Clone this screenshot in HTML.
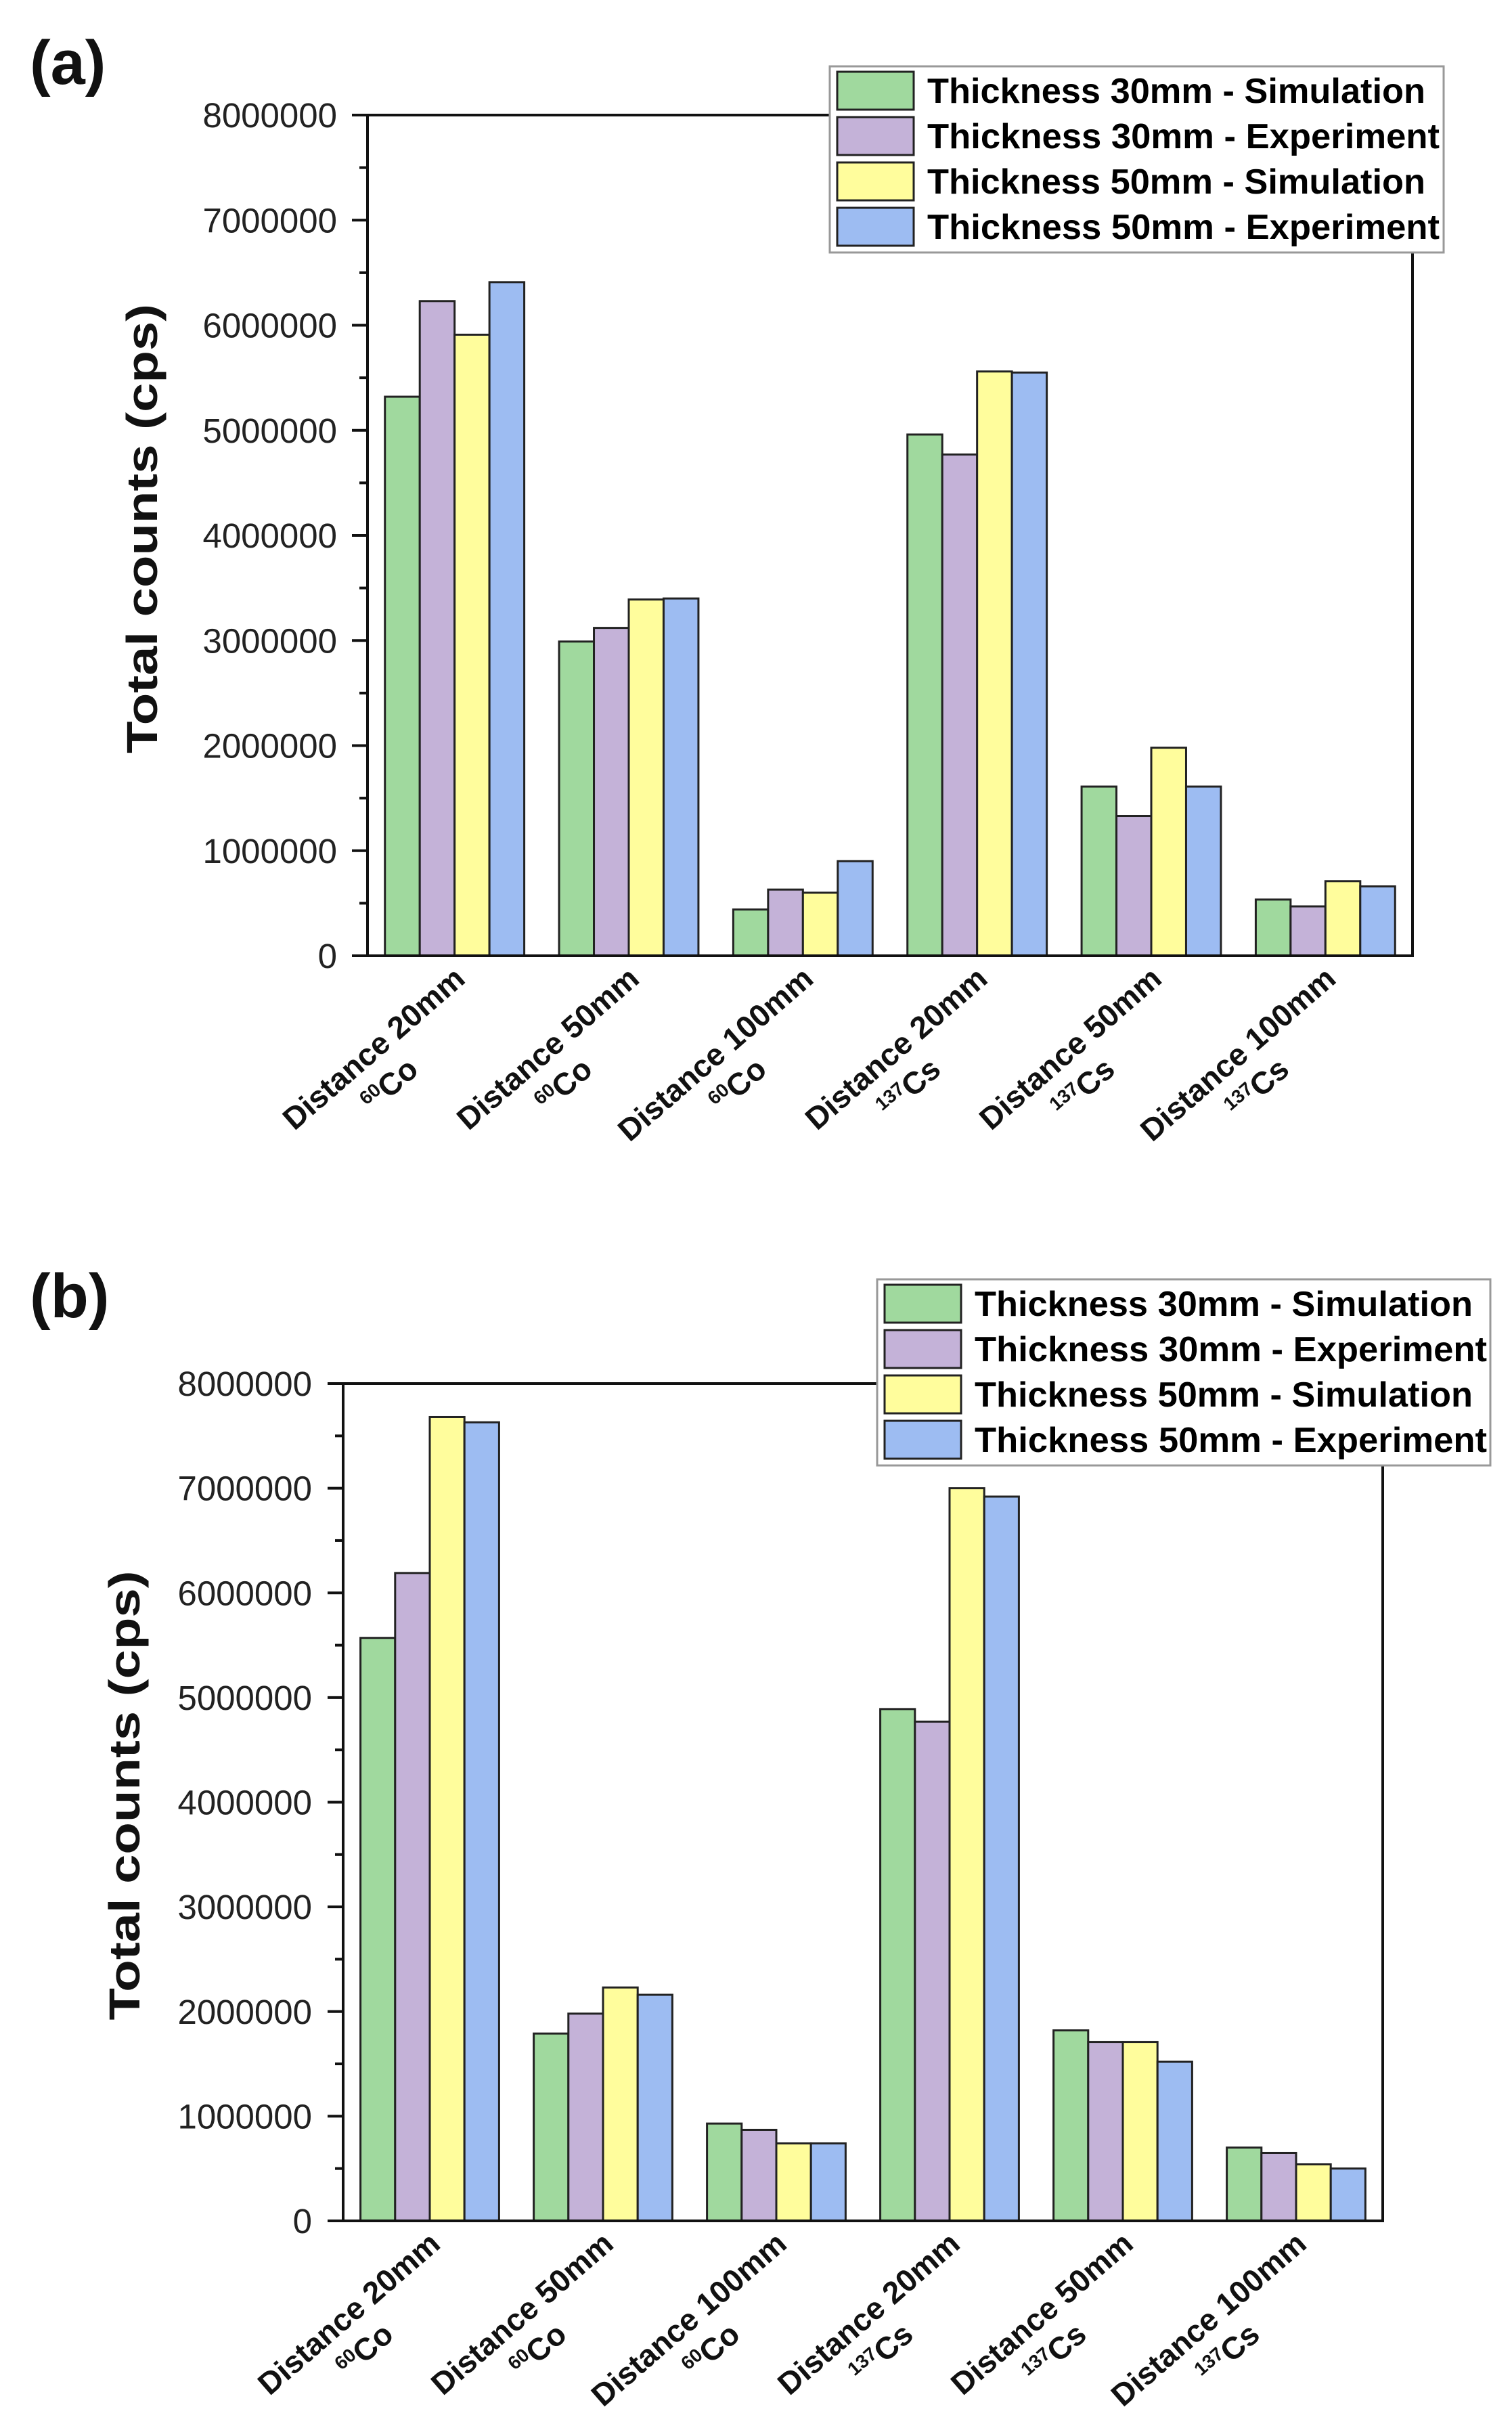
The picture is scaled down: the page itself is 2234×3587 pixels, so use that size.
<!DOCTYPE html>
<html><head><meta charset="utf-8"><style>
html,body{margin:0;padding:0;background:#fff;}
svg{display:block;}
text{font-family:"Liberation Sans",sans-serif;}
</style></head><body>
<svg id="fig" width="2234" height="3587" viewBox="0 0 2234 3587" xmlns="http://www.w3.org/2000/svg"></svg>
<script>
const categories = ["Distance 20mm|60|Co","Distance 50mm|60|Co","Distance 100mm|60|Co","Distance 20mm|137|Cs","Distance 50mm|137|Cs","Distance 100mm|137|Cs"];
const seriesNames = ["Thickness 30mm - Simulation","Thickness 30mm - Experiment","Thickness 50mm - Simulation","Thickness 50mm - Experiment"];
const yTicks = [0,1000000,2000000,3000000,4000000,5000000,6000000,7000000,8000000];
const aSim30 = [5320000,2990000,440000,4960000,1610000,535000];
const aExp30 = [6230000,3120000,630000,4770000,1330000,470000];
const aSim50 = [5910000,3390000,600000,5560000,1980000,710000];
const aExp50 = [6410000,3400000,900000,5550000,1610000,660000];
const bSim30 = [5570000,1790000,930000,4890000,1820000,700000];
const bExp30 = [6190000,1980000,870000,4770000,1710000,650000];
const bSim50 = [7680000,2230000,740000,7000000,1710000,540000];
const bExp50 = [7630000,2160000,740000,6920000,1520000,500000];
const colors = ["#a0d99e","#c4b2d8","#fffd9c","#9dbcf2"];
const NS="http://www.w3.org/2000/svg";
const svg=document.getElementById('fig');
function mk(tag,attrs,parent){const e=document.createElementNS(NS,tag);for(const k in attrs)e.setAttribute(k,attrs[k]);(parent||svg).appendChild(e);return e;}

function panel(cfg){
  const g=mk('g',{});
  
  
  const L=cfg.L,R=cfg.R,T=cfg.T,B=cfg.B,ymax=8000000;
  const yS=v=>B-(v/ymax)*(B-T);
  const cw=(R-L)/categories.length;
  const xC=i=>L+cw*(i+0.5);
  const bw=cw*0.8/4;
  const pl=mk('text',{x:cfg.labX,y:cfg.labY,'font-size':92,'font-weight':'bold',fill:'#111'},g);
  pl.textContent=cfg.label;
  
  
  cfg.series.forEach((arr,s)=>{
    arr.forEach((v,i)=>{
      const x=xC(i)-2*bw+s*bw;
      const r=mk('rect',{x:x,y:yS(v),width:bw,height:B-yS(v),fill:colors[s],stroke:'#222','stroke-width':3},g);
      
      
    });
  });
  const fr=mk('path',{d:`M${L} ${T}H${R}V${B}H${L}Z`,fill:'none',stroke:'#111','stroke-width':4},g);
  
  
  yTicks.forEach((t,k)=>{
    const y=yS(t);
    mk('line',{x1:L-23,x2:L,y1:y,y2:y,stroke:'#111','stroke-width':4},g);
    const tl=mk('text',{x:cfg.tickRight,y:y+18,'font-size':51,'text-anchor':'end',fill:'#222'},g);
    tl.textContent=String(t);
    
    
    if(k<yTicks.length-1){const ym=yS(t+500000);mk('line',{x1:L-12,x2:L,y1:ym,y2:ym,stroke:'#111','stroke-width':4},g);}
  });
  const yt=mk('text',{x:0,y:0,'font-size':64,'font-weight':'bold','text-anchor':'middle',fill:'#111',transform:`translate(${cfg.titleX},${(T+B)/2-10}) rotate(-90)`,textLength:664,lengthAdjust:'spacingAndGlyphs'},g);
  yt.textContent='Total counts (cps)';
  
  
  categories.forEach((c,i)=>{
    const p=c.split('|');
    const tg=mk('g',{transform:`translate(${xC(i)+18},${B+38}) rotate(-41)`},g);
    
    
    const t1=mk('text',{x:0,y:0,'font-size':46,'font-weight':'bold','text-anchor':'end',fill:'#111'},tg);
    t1.textContent=p[0];
    const t2=mk('text',{x:-140,y:56,'font-size':46,'font-weight':'bold','text-anchor':'end',fill:'#111'},tg);
    const sup=mk('tspan',{'font-size':28,dy:-15},t2); sup.textContent=p[1];
    const el=mk('tspan',{dy:15},t2); el.textContent=p[2];
  });
  const lg=mk('g',{},g);
  
  
  mk('rect',{x:cfg.legX,y:cfg.legY,width:cfg.legW,height:275,fill:'#fff',stroke:'#999','stroke-width':3},lg);
  seriesNames.forEach((n,s)=>{
    const y=cfg.legY+8+s*67;
    const e=mk('g',{},lg);
    
    
    mk('rect',{x:cfg.legX+11,y:y,width:113,height:56,fill:colors[s],stroke:'#222','stroke-width':3},e);
    const tx=mk('text',{x:cfg.legX+144,y:y+46,'font-size':52,'font-weight':'bold',fill:'#000',textLength:n.indexOf('Exp')>0?757:736,lengthAdjust:'spacingAndGlyphs'},e);
    tx.textContent=n;
  });
}
panel({id:'panel-a',label:'(a)',labX:44,labY:124,L:543,R:2087,T:170,B:1412,tickRight:498,titleX:232,
  series:[aSim30,aExp30,aSim50,aExp50],legX:1226,legY:98,legW:907});
panel({id:'panel-b',label:'(b)',labX:44,labY:1946,L:507,R:2043,T:2044,B:3281,tickRight:461,titleX:206,
  series:[bSim30,bExp30,bSim50,bExp50],legX:1296,legY:1890,legW:906});
</script>
</body></html>
